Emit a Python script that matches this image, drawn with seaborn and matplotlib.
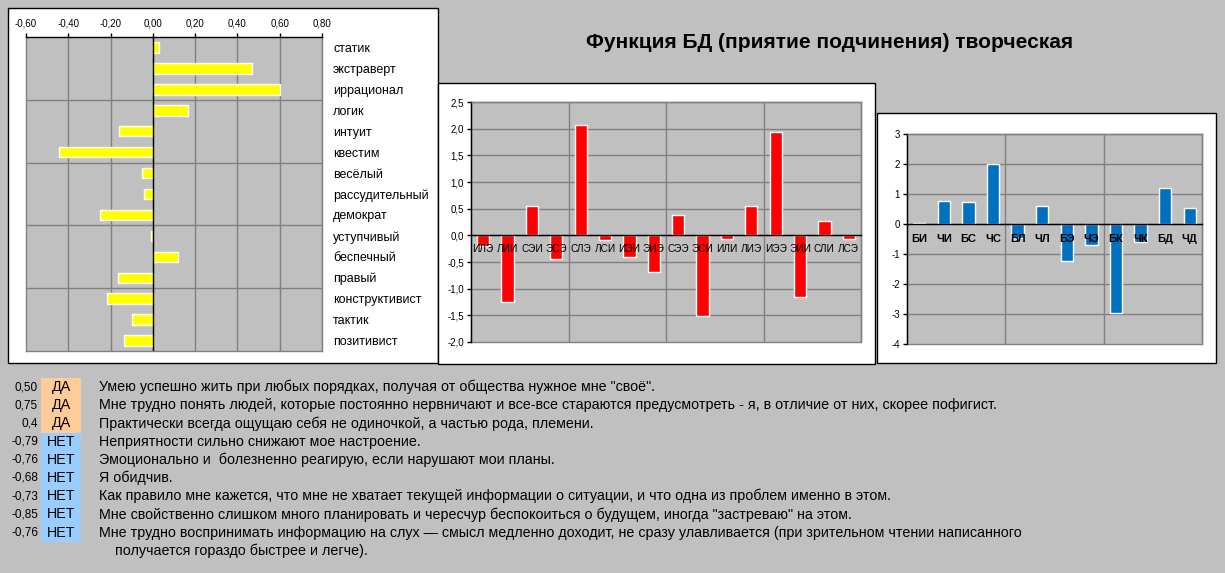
import numpy as np
import pandas as pd
import matplotlib
matplotlib.use("Agg")
import matplotlib.pyplot as plt
import seaborn as sns
from matplotlib.patches import Rectangle
from matplotlib.ticker import FuncFormatter

sns.set_style("white")
plt.rcParams['font.family'] = ['Liberation Sans', 'DejaVu Sans']
plt.rcParams['text.color'] = 'black'
plt.rcParams['xtick.color'] = 'black'
plt.rcParams['ytick.color'] = 'black'
plt.rcParams['axes.unicode_minus'] = False

# данные
traits = ['статик', 'экстраверт', 'иррационал', 'логик', 'интуит', 'квестим',
          'весёлый', 'рассудительный', 'демократ', 'уступчивый', 'беспечный',
          'правый', 'конструктивист', 'тактик', 'позитивист']
trait_vals = [0.03, 0.47, 0.60, 0.167, -0.159, -0.444, -0.049, -0.040, -0.249,
              -0.011, 0.117, -0.163, -0.217, -0.10, -0.135]

types = ['ИЛЭ', 'ЛИИ', 'СЭИ', 'ЭСЭ', 'СЛЭ', 'ЛСИ', 'ИЭИ', 'ЭИЭ',
         'СЭЭ', 'ЭСИ', 'ИЛИ', 'ЛИЭ', 'ИЭЭ', 'ЭИИ', 'СЛИ', 'ЛСЭ']
type_vals = [-0.2, -1.25, 0.55, -0.44, 2.07, -0.09, -0.40, -0.68,
             0.38, -1.51, -0.06, 0.55, 1.94, -1.15, 0.27, -0.06]

funcs = ['БИ', 'ЧИ', 'БС', 'ЧС', 'БЛ', 'ЧЛ', 'БЭ', 'ЧЭ', 'БК', 'ЧК', 'БД', 'ЧД']
func_vals = [0.04, 0.78, 0.74, 1.99, -0.45, 0.61, -1.22, -0.69, -2.97, -0.61, 1.21, 0.54]

q_scores = ['0,50', '0,75', '0,4', '-0,79', '-0,76', '-0,68', '-0,73', '-0,85', '-0,76']
q_answers = ['ДА', 'ДА', 'ДА', 'НЕТ', 'НЕТ', 'НЕТ', 'НЕТ', 'НЕТ', 'НЕТ']
q_texts = [
    'Умею успешно жить при любых порядках, получая от общества нужное мне "своё".',
    'Мне трудно понять людей, которые постоянно нервничают и все-все стараются предусмотреть - я, в отличие от них, скорее пофигист.',
    'Практически всегда ощущаю себя не одиночкой, а частью рода, племени.',
    'Неприятности сильно снижают мое настроение.',
    'Эмоционально и  болезненно реагирую, если нарушают мои планы.',
    'Я обидчив.',
    'Как правило мне кажется, что мне не хватает текущей информации о ситуации, и что одна из проблем именно в этом.',
    'Мне свойственно слишком много планировать и чересчур беспокоиться о будущем, иногда "застреваю" на этом.',
    'Мне трудно воспринимать информацию на слух — смысл медленно доходит, не сразу улавливается (при зрительном чтении написанного',
]
q_tail = 'получается гораздо быстрее и легче).'

title = 'Функция БД (приятие подчинения) творческая'

W, H = 1225, 573
BG = '#c0c0c0'
GRID = '#808080'

def rect(x0, y0, x1, y1):
    return [x0 / W, 1 - y1 / H, (x1 - x0) / W, (y1 - y0) / H]

def comma(fmt):
    return FuncFormatter(lambda v, p: (fmt % v).replace('.', ','))

fig = plt.figure(figsize=(W / 100, H / 100), dpi=100, facecolor=BG)

# белые подложки диаграмм
for x0, y0, x1, y1 in [(8, 8, 438, 363), (438, 83, 875, 364), (877, 113, 1216, 363)]:
    fig.patches.append(Rectangle((x0 / W, 1 - y1 / H), (x1 - x0) / W, (y1 - y0) / H,
                                 transform=fig.transFigure, facecolor='white',
                                 edgecolor='black', linewidth=1, zorder=-5))

def style_axes(ax):
    ax.set_facecolor(BG)
    for s in ax.spines.values():
        s.set_color(GRID)
        s.set_linewidth(1)
    ax.set_xlabel('')
    ax.set_ylabel('')

# левая диаграмма: черты
ax1 = fig.add_axes(rect(26, 37, 322, 351))
df1 = pd.DataFrame({'trait': traits, 'val': trait_vals})
sns.barplot(data=df1, x='val', y='trait', orient='h', color='#ffff00',
            width=0.5, saturation=1, ax=ax1, zorder=2)
style_axes(ax1)
ax1.set_xlim(-0.6, 0.8)
ax1.set_xticks(np.arange(-0.6, 0.81, 0.2))
ax1.xaxis.set_major_formatter(comma('%.2f'))
ax1.xaxis.tick_top()
ax1.spines['top'].set_color('black')
ax1.tick_params(axis='x', top=True, length=3, width=1, color='black', labelsize=7, pad=3)
ax1.yaxis.tick_right()
ax1.tick_params(axis='y', right=False, length=0, labelsize=9, pad=8)
for lbl in ax1.get_yticklabels():
    lbl.set_horizontalalignment('left')
for v in np.arange(-0.4, 0.8, 0.2):
    ax1.axvline(v, color=GRID, lw=1, zorder=0.5)
for yv in np.arange(2.5, len(traits) - 1, 3):
    ax1.axhline(yv, color=GRID, lw=1, zorder=0.5)
ax1.axvline(0, color='black', lw=1, zorder=3)

# средняя диаграмма: типы
ax2 = fig.add_axes(rect(471, 102, 861, 342))
df2 = pd.DataFrame({'type': types, 'val': type_vals})
sns.barplot(data=df2, x='type', y='val', color='#ff0000', width=0.5,
            saturation=1, ax=ax2, zorder=2)
style_axes(ax2)
ax2.set_axisbelow(False)
ax2.set_ylim(-2.0, 2.5)
ax2.set_yticks(np.arange(-2.0, 2.51, 0.5))
ax2.yaxis.set_major_formatter(comma('%.1f'))
ax2.tick_params(axis='y', left=True, length=3, width=1, color='black', labelsize=7, pad=2)
ax2.patch.set_edgecolor(GRID)
ax2.patch.set_linewidth(1)
ax2.spines['bottom'].set_position(('data', 0))
ax2.spines['bottom'].set_color('black')
ax2.spines['left'].set_color('black')
ax2.tick_params(axis='x', bottom=False, labelsize=7.2, pad=3)
for yv in np.arange(-1.5, 2.5, 0.5):
    ax2.axhline(yv, color=GRID, lw=1, zorder=0.5)
for xv in np.arange(3.5, len(types) - 1, 4):
    ax2.axvline(xv, color=GRID, lw=1, zorder=0.5)
ax2.set_xlim(-0.5, len(types) - 0.5)

# правая диаграмма: функции
ax3 = fig.add_axes(rect(907, 134, 1202, 344))
df3 = pd.DataFrame({'func': funcs, 'val': func_vals})
sns.barplot(data=df3, x='func', y='val', color='#0070c0', width=0.5,
            saturation=1, ax=ax3, zorder=2)
style_axes(ax3)
ax3.set_axisbelow(False)
ax3.set_ylim(-4, 3)
ax3.set_yticks(np.arange(-4, 4, 1))
ax3.tick_params(axis='y', left=True, length=3, width=1, color='black', labelsize=7, pad=2)
ax3.patch.set_edgecolor(GRID)
ax3.patch.set_linewidth(1)
ax3.spines['bottom'].set_position(('data', 0))
ax3.spines['bottom'].set_color('black')
ax3.spines['left'].set_color('black')
ax3.tick_params(axis='x', bottom=False, labelsize=8, pad=4)
for lbl in ax3.get_xticklabels():
    lbl.set_fontweight('bold')
for yv in np.arange(-3, 3, 1):
    ax3.axhline(yv, color=GRID, lw=1, zorder=0.5)
for xv in np.arange(3.5, len(funcs) - 1, 4):
    ax3.axvline(xv, color=GRID, lw=1, zorder=0.5)
ax3.set_xlim(-0.5, len(funcs) - 0.5)

# заголовок
fig.text(830 / W, 1 - 42 / H, title, ha='center', va='center',
         fontsize=15, fontweight='bold')

# таблица вопросов
row0, step = 387, 18.2
for i, (sc, ans, txt) in enumerate(zip(q_scores, q_answers, q_texts)):
    yc = row0 + i * step
    col = '#ffcc99' if ans == 'ДА' else '#99ccff'
    fig.patches.append(Rectangle((41 / W, 1 - (yc + step / 2) / H), 40 / W, step / H,
                                 transform=fig.transFigure, facecolor=col,
                                 edgecolor='none', zorder=-5))
    fig.text(38 / W, 1 - yc / H, sc, ha='right', va='center', fontsize=8.5)
    fig.text(61 / W, 1 - yc / H, ans, ha='center', va='center', fontsize=10.3)
    fig.text(99 / W, 1 - yc / H, txt, ha='left', va='center', fontsize=10.3)
fig.text(115 / W, 1 - (row0 + 9 * step) / H, q_tail, ha='left', va='center', fontsize=10.3)

fig.savefig('out.png', dpi=100, facecolor=BG)
